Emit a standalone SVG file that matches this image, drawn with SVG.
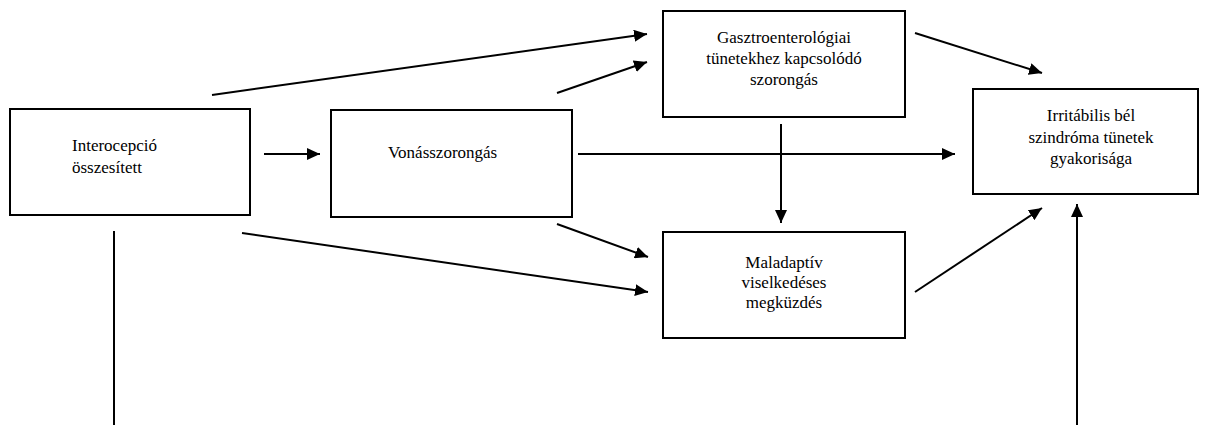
<svg xmlns="http://www.w3.org/2000/svg" width="1208" height="425" viewBox="0 0 1208 425">
<style>
.box{fill:#fff;stroke:#000;stroke-width:2}
.t{font-family:"Liberation Serif","Times New Roman",serif;font-size:17px;fill:#000}
.c{text-anchor:middle}
.e{stroke:#000;stroke-width:2;fill:none}
.a{marker-end:url(#ah)}
</style>
<defs>
<marker id="ah" markerUnits="userSpaceOnUse" markerWidth="14" markerHeight="12" refX="13" refY="6" orient="auto">
<path d="M0,0 L13,6 L0,12 Z" fill="#000"/>
</marker>
</defs>
<rect width="1208" height="425" fill="#fff"/>
<g id="connectors">
<line class="e a" x1="264" y1="154" x2="320" y2="154"/>
<line class="e a" x1="212" y1="95" x2="647" y2="34"/>
<line class="e a" x1="557" y1="93" x2="647" y2="62"/>
<line class="e a" x1="915" y1="33" x2="1042" y2="73"/>
<line class="e a" x1="578" y1="154" x2="955" y2="154"/>
<line class="e a" x1="781" y1="124" x2="781" y2="223"/>
<line class="e a" x1="557" y1="224" x2="648" y2="257"/>
<line class="e a" x1="242" y1="233" x2="648" y2="292"/>
<line class="e a" x1="915" y1="292" x2="1042" y2="208"/>
<line class="e a" x1="1077" y1="425" x2="1077" y2="204"/>
<line class="e" x1="114" y1="231" x2="114" y2="425" stroke-width="1.5"/>
</g>
<g id="interocepcio">
<rect class="box" x="10" y="109" width="240" height="106"/>
<text class="t" x="72" y="151">Interocepció</text>
<text class="t" x="72" y="173">összesített</text>
</g>
<g id="vonasszorongas">
<rect class="box" x="331" y="110" width="241" height="107"/>
<text class="t" x="388" y="158">Vonásszorongás</text>
</g>
<g id="gasztro">
<rect class="box" x="663" y="11" width="242" height="106"/>
<text class="t c" x="784" y="43">Gasztroenterológiai</text>
<text class="t c" x="784" y="64">tünetekhez kapcsolódó</text>
<text class="t c" x="784" y="85">szorongás</text>
</g>
<g id="maladaptiv">
<rect class="box" x="663" y="232" width="242" height="106"/>
<text class="t c" x="784" y="268">Maladaptív</text>
<text class="t c" x="784" y="288">viselkedéses</text>
<text class="t c" x="784" y="308">megküzdés</text>
</g>
<g id="ibs">
<rect class="box" x="973" y="89" width="225" height="105"/>
<text class="t c" x="1091" y="121">Irritábilis bél</text>
<text class="t c" x="1091" y="143">szindróma tünetek</text>
<text class="t c" x="1091" y="164">gyakorisága</text>
</g>
</svg>
